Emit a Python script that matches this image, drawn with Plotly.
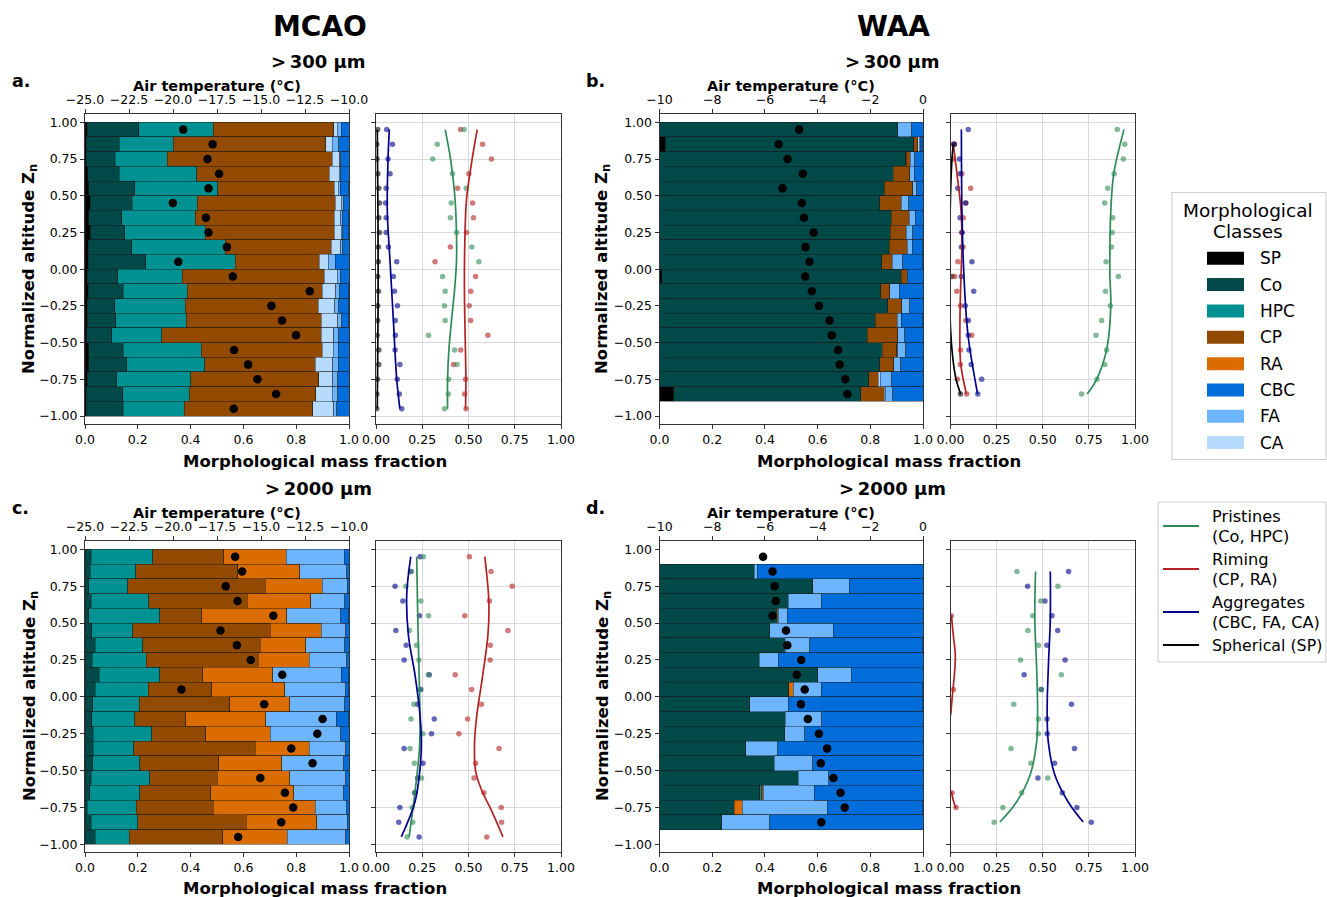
import plotly.graph_objects as go

W, H = 1327, 897

# ---------------- data ----------------
Z20 = [0.95, 0.85, 0.75, 0.65, 0.55, 0.45, 0.35, 0.25, 0.15, 0.05,
       -0.05, -0.15, -0.25, -0.35, -0.45, -0.55, -0.65, -0.75, -0.85, -0.95]
Z19 = Z20[:19]
Z18 = Z20[1:19]

CLASSES = ["SP", "Co", "HPC", "CP", "RA", "CA", "FA", "CBC"]  # stacking order
LEGEND_ORDER = ["SP", "Co", "HPC", "CP", "RA", "CBC", "FA", "CA"]
COLORS = {"SP": "#000000", "Co": "#004949", "HPC": "#009292", "CP": "#924900",
          "RA": "#db6d00", "CBC": "#006ddb", "FA": "#6db6ff", "CA": "#b6dbff"}

# (a) MCAO > 300 um
A_SP = [0.009, 0.004, 0.005, 0.010, 0.015, 0.019, 0.015, 0.019, 0.013, 0.013, 0.009, 0.013, 0.009, 0.009, 0.006, 0.015, 0.015, 0.008, 0.004, 0.004]
A_Co = [0.195, 0.125, 0.110, 0.120, 0.173, 0.160, 0.125, 0.132, 0.165, 0.217, 0.115, 0.131, 0.103, 0.108, 0.095, 0.129, 0.144, 0.113, 0.139, 0.140]
A_HPC = [0.281, 0.206, 0.197, 0.293, 0.315, 0.247, 0.277, 0.304, 0.353, 0.339, 0.245, 0.243, 0.267, 0.266, 0.189, 0.296, 0.294, 0.280, 0.252, 0.231]
A_CP = [0.457, 0.576, 0.624, 0.502, 0.441, 0.522, 0.527, 0.489, 0.402, 0.319, 0.538, 0.512, 0.504, 0.512, 0.605, 0.458, 0.419, 0.484, 0.479, 0.487]
A_RA = [0.0] * 20
A_CA = [0.013, 0.025, 0.029, 0.038, 0.016, 0.023, 0.024, 0.026, 0.035, 0.033, 0.048, 0.050, 0.063, 0.063, 0.048, 0.042, 0.066, 0.054, 0.063, 0.081]
A_FA = [0.016, 0.026, 0.004, 0.006, 0.006, 0.009, 0.006, 0.006, 0.009, 0.026, 0.013, 0.015, 0.015, 0.015, 0.018, 0.019, 0.021, 0.019, 0.021, 0.010]
A_CBC = [0.029, 0.038, 0.032, 0.032, 0.033, 0.020, 0.025, 0.023, 0.023, 0.053, 0.033, 0.035, 0.038, 0.026, 0.039, 0.042, 0.042, 0.042, 0.042, 0.048]
A_T = [-19.42, -17.75, -18.04, -17.38, -17.98, -20.01, -18.13, -17.98, -16.94, -19.70,
       -16.60, -12.23, -14.41, -13.80, -13.01, -16.53, -15.73, -15.20, -14.14, -16.55]

# (b) WAA > 300 um
B_SP = [0, 0.021, 0, 0, 0, 0, 0, 0, 0, 0, 0.008, 0, 0, 0, 0, 0, 0, 0, 0.054]
B_Co = [0.904, 0.944, 0.934, 0.883, 0.852, 0.836, 0.879, 0.876, 0.872, 0.843, 0.910, 0.840, 0.866, 0.819, 0.789, 0.841, 0.836, 0.794, 0.710]
B_HPC = [0, 0, 0.003, 0.004, 0, 0, 0, 0, 0, 0, 0, 0, 0, 0, 0, 0.005, 0, 0, 0]
B_CP = [0, 0.015, 0.015, 0.062, 0.109, 0.082, 0.069, 0.061, 0.068, 0.040, 0.023, 0.034, 0.054, 0.083, 0.115, 0.054, 0.053, 0.037, 0.088]
B_RA = [0.0] * 19
B_CA = [0, 0.006, 0, 0, 0, 0, 0, 0, 0, 0, 0, 0, 0, 0, 0, 0.005, 0, 0.006, 0.004]
B_FA = [0.053, 0.004, 0.016, 0.018, 0.016, 0.027, 0.023, 0.024, 0.019, 0.040, 0, 0.035, 0.029, 0.016, 0.027, 0.030, 0.027, 0.044, 0.030]
B_CBC = [0.043, 0.009, 0.032, 0.034, 0.023, 0.056, 0.029, 0.039, 0.040, 0.076, 0.059, 0.091, 0.051, 0.081, 0.069, 0.065, 0.085, 0.119, 0.114]
B_T = [-4.70, -5.48, -5.14, -4.56, -5.33, -4.60, -4.52, -4.15, -4.46, -4.31,
       -4.47, -4.22, -3.95, -3.55, -3.46, -3.22, -3.16, -2.95, -2.87]

# (c) MCAO > 2000 um
C_SP = [0.0] * 20
C_Co = [0.023, 0.019, 0.015, 0.023, 0.015, 0.025, 0.038, 0.028, 0.054, 0.038, 0.029, 0.025, 0.032, 0.032, 0.029, 0.023, 0.018, 0.008, 0.023, 0.038]
C_HPC = [0.234, 0.173, 0.147, 0.219, 0.269, 0.156, 0.181, 0.204, 0.229, 0.202, 0.176, 0.164, 0.221, 0.152, 0.178, 0.223, 0.190, 0.187, 0.176, 0.130]
C_CP = [0.269, 0.387, 0.520, 0.372, 0.158, 0.521, 0.445, 0.424, 0.163, 0.241, 0.344, 0.192, 0.205, 0.460, 0.300, 0.254, 0.269, 0.290, 0.411, 0.354]
C_RA = [0.236, 0.235, 0.216, 0.241, 0.322, 0.192, 0.173, 0.193, 0.265, 0.276, 0.226, 0.303, 0.243, 0.205, 0.239, 0.276, 0.314, 0.387, 0.268, 0.245]
C_CA = [0.0] * 20
C_FA = [0.220, 0.178, 0.095, 0.129, 0.205, 0.094, 0.147, 0.142, 0.260, 0.231, 0.209, 0.267, 0.268, 0.139, 0.234, 0.212, 0.190, 0.118, 0.115, 0.220]
C_CBC = [0.018, 0.008, 0.008, 0.016, 0.030, 0.013, 0.016, 0.010, 0.028, 0.011, 0.016, 0.048, 0.032, 0.013, 0.020, 0.013, 0.020, 0.011, 0.008, 0.013]
C_T = [-16.47, -16.07, -17.00, -16.33, -14.30, -17.30, -16.37, -15.58, -13.79, -19.52,
       -14.82, -11.50, -11.80, -13.28, -12.07, -15.04, -13.64, -13.17, -13.85, -16.30]

# (d) WAA > 2000 um
D_SP = [0.0] * 18
D_Co = [0.360, 0.582, 0.489, 0.446, 0.419, 0.473, 0.379, 0.601, 0.491, 0.343, 0.477, 0.476, 0.328, 0.436, 0.527, 0.381, 0.284, 0.237]
D_HPC = [0, 0, 0, 0, 0, 0.004, 0, 0, 0, 0, 0, 0, 0, 0, 0, 0.005, 0, 0]
D_CP = [0, 0, 0, 0, 0, 0, 0, 0, 0, 0, 0, 0, 0, 0, 0, 0.008, 0, 0]
D_RA = [0, 0, 0, 0.004, 0, 0, 0, 0, 0.016, 0, 0, 0, 0, 0, 0, 0, 0.030, 0]
D_CA = [0.0] * 18
D_FA = [0.010, 0.138, 0.124, 0.034, 0.240, 0.093, 0.072, 0.126, 0.107, 0.146, 0.139, 0.076, 0.121, 0.146, 0.115, 0.193, 0.323, 0.181]
D_CBC = [0.630, 0.280, 0.388, 0.516, 0.341, 0.429, 0.549, 0.273, 0.385, 0.510, 0.384, 0.448, 0.551, 0.418, 0.359, 0.413, 0.362, 0.582]
D_T = [-6.07, -5.71, -5.63, -5.59, -5.71, -5.20, -5.15, -4.62, -4.79, -4.49,
       -4.63, -4.37, -3.95, -3.64, -3.88, -3.40, -3.13, -2.97, -3.86]

# fitted profile curves: (x values, altitude values)
A_FIT = {
    "P": ([0.374, 0.403, 0.426, 0.435, 0.435, 0.424, 0.408, 0.394, 0.387, 0.387],
          [0.95, 0.75, 0.5, 0.25, 0.05, -0.15, -0.35, -0.55, -0.75, -0.95]),
    "R": ([0.547, 0.516, 0.489, 0.480, 0.478, 0.482, 0.486, 0.484],
          [0.95, 0.72, 0.47, 0.175, -0.15, -0.46, -0.75, -0.95]),
    "A": ([0.072, 0.065, 0.061, 0.076, 0.094, 0.112, 0.129],
          [0.95, 0.745, 0.4, 0.05, -0.35, -0.75, -0.95]),
    "S": ([0.007, 0.011, 0.011, 0.007], [0.95, 0.3, -0.3, -0.95]),
}
B_FIT = {
    "P": ([0.940, 0.885, 0.869, 0.864, 0.864, 0.869, 0.846, 0.792, 0.741],
          [0.95, 0.65, 0.4, 0.15, -0.05, -0.25, -0.55, -0.75, -0.85]),
    "R": ([0.015, 0.037, 0.057, 0.062, 0.055, 0.051, 0.055, 0.086],
          [0.85, 0.63, 0.4, 0.175, -0.12, -0.39, -0.64, -0.85]),
    "A": ([0.059, 0.062, 0.073, 0.095, 0.147], [0.95, 0.4, -0.05, -0.45, -0.85]),
    "S": ([0.015, 0.008, 0.0, -0.005, 0.0, 0.012, 0.03, 0.055],
          [0.85, 0.75, 0.5, 0.0, -0.4, -0.6, -0.75, -0.85]),
}
C_FIT = {
    "P": ([0.220, 0.224, 0.231, 0.238, 0.235, 0.211, 0.179],
          [0.95, 0.645, 0.254, -0.17, -0.35, -0.645, -0.95]),
    "R": ([0.588, 0.610, 0.605, 0.577, 0.545, 0.533, 0.538, 0.567, 0.635, 0.686],
          [0.95, 0.645, 0.419, 0.147, -0.124, -0.3, -0.5, -0.62, -0.8, -0.95]),
    "A": ([0.188, 0.166, 0.175, 0.211, 0.238, 0.245, 0.238, 0.211, 0.137],
          [0.95, 0.69, 0.419, 0.147, -0.124, -0.305, -0.486, -0.712, -0.95]),
}
D_FIT = {
    "P": ([0.461, 0.457, 0.467, 0.472, 0.467, 0.431, 0.358, 0.268],
          [0.85, 0.53, 0.19, -0.08, -0.306, -0.532, -0.713, -0.849]),
    "A": ([0.541, 0.541, 0.530, 0.524, 0.530, 0.566, 0.638, 0.719],
          [0.85, 0.53, 0.19, -0.08, -0.306, -0.532, -0.713, -0.849]),
    "R": ([0.005, 0.015, 0.026, 0.021, 0.012, 0.001], [0.552, 0.419, 0.283, 0.147, 0.034, -0.124]),
    "R2": ([0.005, 0.015, 0.028], [-0.645, -0.701, -0.753]),
}

GROUP_COL = {"P": "#2e8b57", "R": "#b22222", "A": "#00008b", "S": "#000000"}
GROUP_PT = {"P": "rgba(46,139,87,0.6)", "R": "rgba(178,34,34,0.6)",
            "A": "rgba(0,0,139,0.6)", "S": "rgba(0,0,0,0.6)"}

Y_TICKS = [1.0, 0.75, 0.5, 0.25, 0.0, -0.25, -0.5, -0.75, -1.0]
Y_TICKTEXT = ["1.00", "0.75", "0.50", "0.25", "0.00", "\u22120.25", "\u22120.50", "\u22120.75", "\u22121.00"]
BAR_X_TICKS = [0, 0.2, 0.4, 0.6, 0.8, 1.0]
BAR_X_TEXT = ["0.0", "0.2", "0.4", "0.6", "0.8", "1.0"]
SIDE_X_TICKS = [0, 0.25, 0.5, 0.75, 1.0]
SIDE_X_TEXT = ["0.00", "0.25", "0.50", "0.75", "1.00"]
T_MCAO_TICKS = [-25.0, -22.5, -20.0, -17.5, -15.0, -12.5, -10.0]
T_MCAO_TEXT = ["\u221225.0", "\u221222.5", "\u221220.0", "\u221217.5", "\u221215.0", "\u221212.5", "\u221210.0"]
T_WAA_TICKS = [-10, -8, -6, -4, -2, 0]
T_WAA_TEXT = ["\u221210", "\u22128", "\u22126", "\u22124", "\u22122", "0"]

panels = [
    dict(data=dict(SP=A_SP, Co=A_Co, HPC=A_HPC, CP=A_CP, RA=A_RA, CA=A_CA, FA=A_FA, CBC=A_CBC),
         zb=Z20, zt=Z20, T=A_T, fit=A_FIT, trange=[-25, -10], tt=(T_MCAO_TICKS, T_MCAO_TEXT), col=0, row=0),
    dict(data=dict(SP=B_SP, Co=B_Co, HPC=B_HPC, CP=B_CP, RA=B_RA, CA=B_CA, FA=B_FA, CBC=B_CBC),
         zb=Z19, zt=Z19, T=B_T, fit=B_FIT, trange=[-10, 0], tt=(T_WAA_TICKS, T_WAA_TEXT), col=1, row=0),
    dict(data=dict(SP=C_SP, Co=C_Co, HPC=C_HPC, CP=C_CP, RA=C_RA, CA=C_CA, FA=C_FA, CBC=C_CBC),
         zb=Z20, zt=Z20, T=C_T, fit=C_FIT, trange=[-25, -10], tt=(T_MCAO_TICKS, T_MCAO_TEXT), col=0, row=1),
    dict(data=dict(SP=D_SP, Co=D_Co, HPC=D_HPC, CP=D_CP, RA=D_RA, CA=D_CA, FA=D_FA, CBC=D_CBC),
         zb=Z18, zt=Z19, T=D_T, fit=D_FIT, trange=[-10, 0], tt=(T_WAA_TICKS, T_WAA_TEXT), col=1, row=1),
]

# ---------------- layout geometry (pixels) ----------------
def px(x):
    return x / W


def py(y):
    return 1 - y / H


BAR_X = [(85, 349), (659.5, 923)]
SIDE_X = [(376, 561), (950.5, 1135)]
ROW_Y = [(114.2, 424.1), (541.2, 852.4)]
YR = [-1.055, 1.055]

FONT = "DejaVu Sans"
SPINE = "#333333"
TICKFONT = dict(family=FONT, size=12.5, color="black")


def ref(letter, n):
    return letter + ("" if n == 1 else str(n))


def key(letter, n):
    return letter + "axis" + ("" if n == 1 else str(n))


fig = go.Figure()
layout = {}

for i, P in enumerate(panels):
    bx, tx, sx = 3 * i + 1, 3 * i + 2, 3 * i + 3
    by, sy = 2 * i + 1, 2 * i + 2
    c, r = P["col"], P["row"]
    ydom = [py(ROW_Y[r][1]), py(ROW_Y[r][0])]

    # stacked bars
    for cls in CLASSES:
        vals = P["data"][cls]
        fig.add_trace(go.Bar(
            x=[v if v > 0 else None for v in vals], y=P["zb"], orientation="h", width=0.1,
            marker=dict(color=COLORS[cls], line=dict(width=0.6, color="rgba(25,25,25,0.75)")),
            xaxis=ref("x", bx), yaxis=ref("y", by), showlegend=False, hoverinfo="skip"))

    # temperature dots (top axis)
    fig.add_trace(go.Scatter(x=P["T"], y=P["zt"], mode="markers",
                             marker=dict(color="black", size=8.5),
                             xaxis=ref("x", tx), yaxis=ref("y", by), showlegend=False))

    # group sums for side panel
    d = P["data"]
    n = len(P["zb"])
    groups = {
        "S": d["SP"],
        "R": [d["CP"][k] + d["RA"][k] for k in range(n)],
        "A": [d["CA"][k] + d["FA"][k] + d["CBC"][k] for k in range(n)],
        "P": [d["Co"][k] + d["HPC"][k] for k in range(n)],
    }
    for g in ["S", "R", "A", "P"]:
        xs = [v for v in groups[g] if v > 0]
        ys = [z for v, z in zip(groups[g], P["zb"]) if v > 0]
        if xs:
            fig.add_trace(go.Scatter(x=xs, y=ys, mode="markers",
                                     marker=dict(color=GROUP_PT[g], size=5.5),
                                     xaxis=ref("x", sx), yaxis=ref("y", sy), showlegend=False))
    for g, (fx, fy) in P["fit"].items():
        gc = GROUP_COL[g[0]]
        fig.add_trace(go.Scatter(x=fx, y=fy, mode="lines", line=dict(color=gc, width=1.7, shape="spline"),
                                 xaxis=ref("x", sx), yaxis=ref("y", sy), showlegend=False))

    common = dict(showline=True, linecolor=SPINE, linewidth=1, mirror=True, zeroline=False,
                  ticks="outside", ticklen=4, tickwidth=1, tickcolor=SPINE, tickfont=TICKFONT,
                  automargin=False)
    layout[key("x", bx)] = dict(domain=[px(BAR_X[c][0]), px(BAR_X[c][1])], anchor=ref("y", by),
                                range=[0, 1], tickvals=BAR_X_TICKS, ticktext=BAR_X_TEXT,
                                showgrid=False, **common)
    layout[key("x", tx)] = dict(overlaying=ref("x", bx), anchor=ref("y", by), side="top",
                                range=P["trange"], tickvals=P["tt"][0], ticktext=P["tt"][1],
                                showgrid=False, zeroline=False, showline=False, ticks="outside",
                                ticklen=4, tickwidth=1, tickcolor=SPINE, tickfont=TICKFONT,
                                automargin=False)
    layout[key("y", by)] = dict(domain=ydom, anchor=ref("x", bx), range=YR,
                                tickvals=Y_TICKS, ticktext=Y_TICKTEXT, showgrid=False, **common)
    layout[key("x", sx)] = dict(domain=[px(SIDE_X[c][0]), px(SIDE_X[c][1])], anchor=ref("y", sy),
                                range=[0, 1], tickvals=SIDE_X_TICKS, ticktext=SIDE_X_TEXT,
                                showgrid=True, gridcolor="#d9d9d9", gridwidth=1, **common)
    layout[key("y", sy)] = dict(domain=ydom, anchor=ref("x", sx), range=YR,
                                tickvals=Y_TICKS, showticklabels=False,
                                showgrid=True, gridcolor="#d9d9d9", gridwidth=1, **common)

# ---------------- text ----------------
ann = []


def text(x, y, s, size, bold=False, xanchor="center", angle=0):
    ann.append(dict(x=px(x), y=py(y), xref="paper", yref="paper", showarrow=False,
                    text=("<b>%s</b>" % s) if bold else s, textangle=angle,
                    xanchor=xanchor, yanchor="middle",
                    font=dict(family=FONT, size=size, color="black")))


text(320, 26, "MCAO", 28, True)
text(893, 26, "WAA", 28, True)
for yy, lab in [(61, ">\u2009300 \u03bcm"), (488, ">\u20092000 \u03bcm")]:
    text(318, yy, lab, 18, True)
    text(892, yy, lab, 18, True)
for x, y, lab in [(20.5, 81, "a."), (595, 81, "b."), (20.5, 508, "c."), (595, 508, "d.")]:
    text(x, y, lab, 17.5, True)
for yy in [86, 513]:
    text(217, yy, "Air temperature (\u00b0C)", 14.5, True)
    text(791, yy, "Air temperature (\u00b0C)", 14.5, True)
for yy in [461, 888]:
    text(315, yy, "Morphological mass fraction", 16.5, True)
    text(889, yy, "Morphological mass fraction", 16.5, True)
for yy in [269, 696]:
    text(30, yy, "Normalized altitude Z<sub>n</sub>", 16.5, True, angle=-90)
    text(603, yy, "Normalized altitude Z<sub>n</sub>", 16.5, True, angle=-90)

# ---------------- legends (drawn) ----------------
shapes = []
shapes.append(dict(type="rect", xref="paper", yref="paper", x0=px(1172), x1=px(1326),
                   y0=py(459.5), y1=py(192.5), line=dict(color="#cccccc", width=1),
                   fillcolor="white", layer="below"))
text(1248, 210, "Morphological", 18.5)
text(1248, 231.5, "Classes", 18.5)
LEG_Y = [258.3, 284.6, 311, 337.3, 363.7, 389.9, 416.3, 442.5]
for cls, yy in zip(LEGEND_ORDER, LEG_Y):
    shapes.append(dict(type="rect", xref="paper", yref="paper", x0=px(1207), x1=px(1244),
                       y0=py(yy + 6.5), y1=py(yy - 6.5), line=dict(width=0),
                       fillcolor=COLORS[cls]))
    text(1258, yy, cls, 17, xanchor="left")

shapes.append(dict(type="rect", xref="paper", yref="paper", x0=px(1158), x1=px(1326),
                   y0=py(662), y1=py(502), line=dict(color="#cccccc", width=1),
                   fillcolor="white", layer="below"))
LEG2 = [("P", 526, "Pristines", "(Co, HPC)"), ("R", 569, "Riming", "(CP, RA)"),
        ("A", 612, "Aggregates", "(CBC, FA, CA)")]
for g, yy, l1, l2 in LEG2:
    shapes.append(dict(type="line", xref="paper", yref="paper", x0=px(1163), x1=px(1199),
                       y0=py(yy), y1=py(yy), line=dict(color=GROUP_COL[g], width=2.2)))
    text(1210, yy - 10, l1, 16.2, xanchor="left")
    text(1210, yy + 10, l2, 16.2, xanchor="left")
shapes.append(dict(type="line", xref="paper", yref="paper", x0=px(1163), x1=px(1199),
                   y0=py(645), y1=py(645), line=dict(color=GROUP_COL["S"], width=2.2)))
text(1210, 645, "Spherical (SP)", 15.8, xanchor="left")

fig.update_layout(
    width=W, height=H, margin=dict(l=0, r=0, t=0, b=0, autoexpand=False),
    paper_bgcolor="white", plot_bgcolor="white", barmode="stack",
    showlegend=False, annotations=ann, shapes=shapes,
    font=dict(family=FONT, size=12.5, color="black"),
    **layout)

fig.write_html("out.html")
